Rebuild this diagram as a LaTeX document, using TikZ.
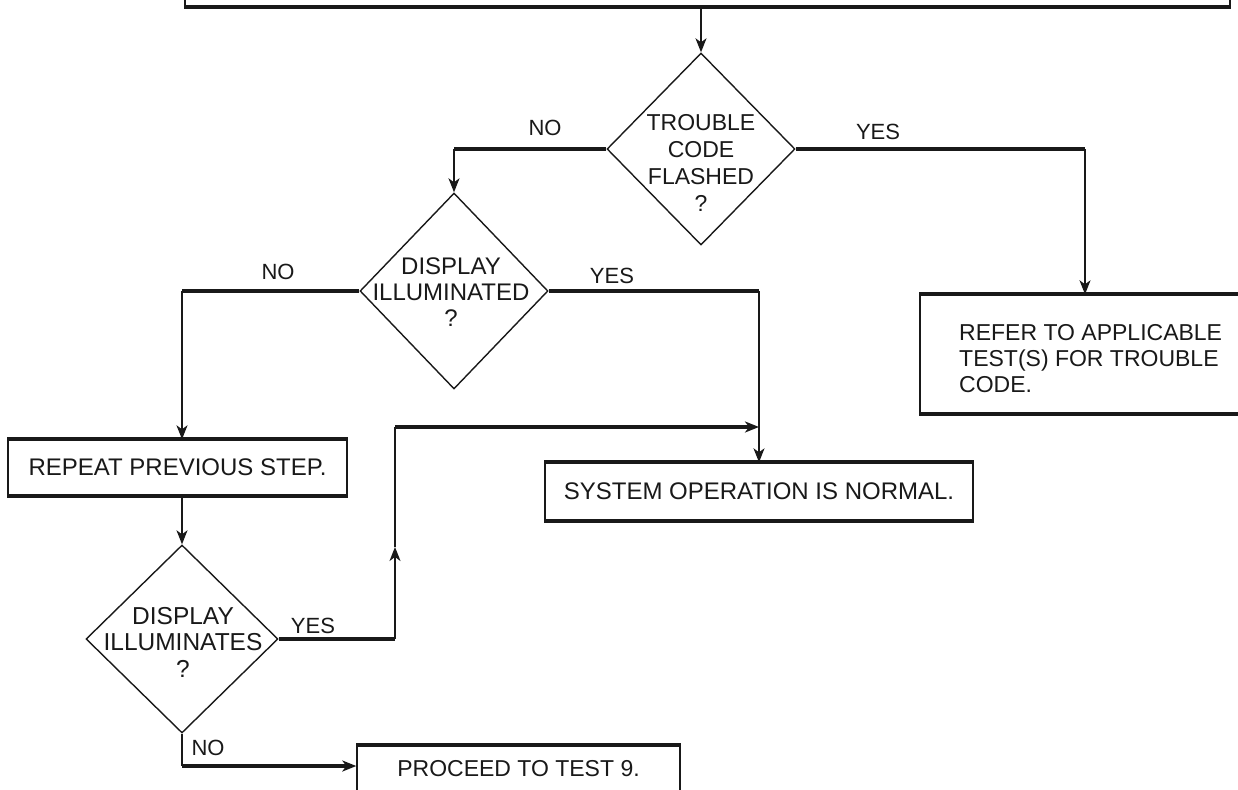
\documentclass[tikz,border=0pt]{standalone}
\usepackage{fontspec}
\setmainfont{Liberation Sans}
\usetikzlibrary{shapes.geometric,arrows.meta}
\begin{document}
\begin{tikzpicture}[x=1pt,y=-1pt,
  txt/.style={font=\fontsize{23}{27}\selectfont, text=black!90, inner sep=0pt, align=center},
  lbl/.style={font=\fontsize{22}{26}\selectfont, text=black!90, inner sep=0pt},
  box/.style={draw=black!90, line width=1.4pt, inner sep=0pt, rectangle},
  dia/.style={draw=black!90, line width=1.4pt, diamond, inner sep=0pt},
  hline/.style={draw=black!90, line width=4pt},
  vline/.style={draw=black!90, line width=1.4pt},
  tip/.style={-{Stealth[length=14pt,width=11pt,inset=4pt]}}
]
\useasboundingbox (0,0) rectangle (1238,789);
\fill[white] (0,0) rectangle (1238,789);
\clip (0,0) rectangle (1238,789);

% boxes
\node[box, minimum width=1045pt, minimum height=66pt] (top) at (707.5,-27) {};
\node[box, minimum width=350pt, minimum height=118pt] (refer) at (1095,354) {};
\node[txt, anchor=west, align=left, font=\fontsize{23}{26}\selectfont] (refertxt) at (959,359)
  {REFER TO APPLICABLE\\TEST(S) FOR TROUBLE\\CODE.};
\node[box, txt, font=\fontsize{24}{27}\selectfont, draw=black!90, line width=1.4pt, minimum width=339pt, minimum height=55pt] (rep) at (177.5,467.5) {REPEAT PREVIOUS STEP.};
\node[box, txt, font=\fontsize{24}{27}\selectfont, draw=black!90, line width=1.4pt, minimum width=428pt, minimum height=57pt] (sys) at (759,491.5) {SYSTEM OPERATION IS NORMAL.};
\node[box, txt, draw=black!90, line width=1.4pt, minimum width=323pt, minimum height=46pt] (proc) at (518.5,769) {PROCEED TO TEST 9.};
\foreach \n in {top,refer,rep,sys,proc}
  \draw[hline] (\n.north west) -- (\n.north east) (\n.south west) -- (\n.south east);

% diamonds
\node[dia, minimum width=188pt, minimum height=192pt] (d1) at (701,149) {};
\node[txt] (d1t) at (701,163) {TROUBLE\\CODE\\FLASHED\\?};
\node[dia, minimum width=188pt, minimum height=196pt] (d2) at (454,291) {};
\node[txt, font=\fontsize{24}{26}\selectfont] (d2t) at (451,292) {DISPLAY\\ILLUMINATED\\?};
\node[dia, minimum width=192pt, minimum height=188pt] (d3) at (182,639) {};
\node[txt, font=\fontsize{24.5}{26.5}\selectfont] (d3t) at (183,642) {DISPLAY\\ILLUMINATES\\?};

% labels
\node[lbl] (l1) at (545,128) {NO};
\node[lbl] (l2) at (878,132) {YES};
\node[lbl] (l3) at (278,272) {NO};
\node[lbl] (l4) at (612,276) {YES};
\node[lbl] (l5) at (313,626) {YES};
\node[lbl] (l6) at (208,748) {NO};

% connectors
\draw[vline, tip] (d1.north |- top.south) -- (d1.north);

\coordinate (c1) at (d1.west -| d2.north);
\draw[hline] (d1.west) -- (c1);
\draw[vline, tip] (c1) -- (d2.north);

\coordinate (c2) at (1085,149);
\draw[hline] (d1.east) -- (c2);
\draw[vline, tip] (c2) -- (c2 |- refer.north);

\coordinate (c3) at (d2.west -| d3.north);
\draw[hline] (d2.west) -- (c3);
\draw[vline, tip] (c3) -- (c3 |- rep.north);

\coordinate (c4) at (d2.east -| sys.north);
\draw[hline] (d2.east) -- (c4);
\draw[vline, tip] (c4) -- (sys.north);

\draw[vline, tip] (d3.north |- rep.south) -- (d3.north);

\coordinate (c5) at (395,639);
\coordinate (c6) at (395,547);
\coordinate (c7) at (395,427);
\coordinate (c8) at (c7 -| sys.north);
\draw[hline] (d3.east) -- (c5);
\draw[vline, tip] (c5) -- (c6);
\draw[vline] (c6) -- (c7);
\draw[hline, tip] (c7) -- (c8);

\coordinate (c9) at (182,766);
\draw[vline] (d3.south) -- (c9);
\draw[hline, tip] (c9) -- (c9 -| proc.west);
\end{tikzpicture}
\end{document}
